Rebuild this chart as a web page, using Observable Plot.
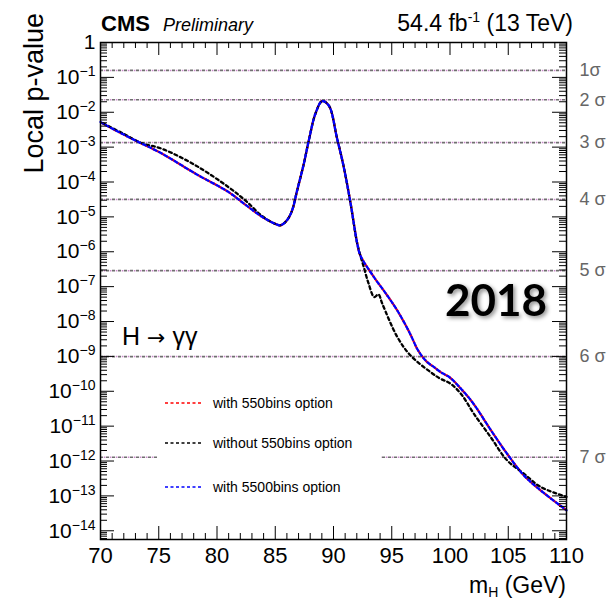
<!DOCTYPE html>
<html>
<head>
<meta charset="utf-8">
<script src="https://cdn.jsdelivr.net/npm/d3@7"></script>
<script src="https://cdn.jsdelivr.net/npm/@observablehq/plot@0.6"></script>
<style>
  html, body { margin: 0; padding: 0; background: #fff; }
  #chart { position: relative; width: 610px; height: 601px; }
</style>
</head>
<body>
<div id="chart"></div>
<script>
// ---- data ----
// mass points (GeV) and log10(local p-value)
const massBlue = [70.0, 71.3, 73.0, 75.3, 78.15, 81.0, 82.16, 83.88, 85.0, 85.45, 86.0, 86.45, 86.88, 87.45, 87.88, 88.45, 89.03, 89.6, 90.3, 90.88, 91.46, 92.03, 92.3, 93.46, 94.5, 95.47, 96.5, 97.3, 98.0, 98.6, 99.2, 100.04, 101.0, 102.0, 103.48, 104.9, 106.34, 107.77, 110.0];
const logBlue  = [-2.28, -2.52, -2.81, -3.19, -3.76, -4.29, -4.58, -5.00, -5.20, -5.24, -5.10, -4.81, -4.24, -3.48, -2.81, -2.04, -1.68, -1.81, -2.74, -3.57, -4.6, -5.75, -6.1, -6.72, -7.2, -7.68, -8.3, -8.85, -9.15, -9.3, -9.45, -9.62, -9.95, -10.35, -11.1, -11.79, -12.41, -12.84, -13.41];
const massRed  = massBlue.slice();
const logRed   = logBlue.slice();
const massBlack = [70.0, 72.0, 73.5, 75.3, 78.15, 81.0, 82.5, 83.88, 85.0, 85.45, 86.0, 86.45, 86.88, 87.45, 87.88, 88.45, 89.03, 89.6, 90.3, 90.88, 91.46, 92.03, 92.3, 92.6, 93.0, 93.5, 93.85, 94.2, 95.47, 96.6, 98.33, 99.18, 100.04, 101.0, 102.04, 103.48, 104.9, 106.34, 107.77, 110.0];
const logBlack  = [-2.28, -2.62, -2.88, -3.05, -3.52, -4.15, -4.55, -4.98, -5.20, -5.24, -5.10, -4.81, -4.24, -3.48, -2.81, -2.04, -1.68, -1.81, -2.74, -3.57, -4.6, -5.75, -6.1, -6.44, -6.9, -7.3, -7.22, -7.5, -8.44, -8.97, -9.45, -9.64, -9.78, -10.1, -10.64, -11.31, -11.98, -12.36, -12.74, -13.03];

const sigmaLabels = ["1σ", "2 σ", "3 σ", "4 σ", "5 σ", "6 σ", "7 σ"];
const sigmaP = [0.1587, 0.02275, 1.35e-3, 3.17e-5, 2.87e-7, 9.87e-10, 1.28e-12];

const xTicks = [70, 75, 80, 85, 90, 95, 100, 105, 110];
const yExps = [0, -1, -2, -3, -4, -5, -6, -7, -8, -9, -10, -11, -12, -13, -14];

const legendNames = ["with 550bins option", "without 550bins option", "with 5500bins option"];
const legendColors = ["#ff0000", "#000000", "#0000ff"];

// ---- build tables ----
const toRows = (ms, ls) => ms.map((m, i) => ({m, p: Math.pow(10, ls[i])}));
const blue = toRows(massBlue, logBlue);
const red = toRows(massRed, logRed);
const black = toRows(massBlack, logBlack);
const sigmas = sigmaP.map((p, i) => ({p, label: sigmaLabels[i]}));
const yMajor = yExps.map(e => Math.pow(10, e));
const yMinor = [];
for (let e = -15; e < 0; e++) for (let k = 2; k <= 9; k++) {
  const v = k * Math.pow(10, e);
  if (v >= Math.pow(10, -14.25)) yMinor.push(v);
}
const xMinor = d3.range(70, 111).filter(v => v % 5 !== 0);

const W = 610, H = 601, mL = 100, mR = 44, mT = 42, mB = 62;
const iW = W - mL - mR, iH = H - mT - mB;

const plot = Plot.plot({
  width: W, height: H,
  marginLeft: mL, marginRight: mR, marginTop: mT, marginBottom: mB,
  style: {fontFamily: "'Liberation Sans', Arial, sans-serif", fontSize: "21px", color: "#000", background: "#fff"},
  x: {domain: [70, 110], label: null},
  y: {type: "log", domain: [Math.pow(10, -14.25), 1], label: null},
  marks: [
    // sigma lines
    Plot.ruleY(sigmas, {y: "p", stroke: "#c98ac9", strokeWidth: 1.5, strokeDasharray: "1.6,4.4", strokeDashoffset: 2.2}),
    Plot.ruleY(sigmas, {y: "p", stroke: "#6f6f6f", strokeWidth: 1.6, strokeDasharray: "3,3"}),
    Plot.text(sigmas, {x: () => 110, y: "p", text: "label", dx: 13, textAnchor: "start", fill: "#666", fontSize: 18}),
    // curves
    Plot.line(red, {x: "m", y: "p", stroke: "#ff0000", strokeWidth: 2.3, strokeDasharray: "3,3", strokeDashoffset: 3, curve: "catmull-rom", className: "curve-red"}),
    Plot.line(black, {x: "m", y: "p", stroke: "#000", strokeWidth: 2.3, strokeDasharray: "3,3", strokeDashoffset: 3, curve: "catmull-rom"}),
    Plot.line(blue, {x: "m", y: "p", stroke: "#0000ff", strokeWidth: 2.3, strokeDasharray: "3,3", curve: "catmull-rom"}),
    // inward ticks
    Plot.tickX(xTicks, {x: d => d, insetTop: iH - 13, stroke: "#000"}),
    Plot.tickX(xTicks, {x: d => d, insetBottom: iH - 13, stroke: "#000"}),
    Plot.tickX(xMinor, {x: d => d, insetTop: iH - 6, stroke: "#000"}),
    Plot.tickX(xMinor, {x: d => d, insetBottom: iH - 6, stroke: "#000"}),
    Plot.tickY(yMajor, {y: d => d, insetRight: iW - 14, stroke: "#000"}),
    Plot.tickY(yMajor, {y: d => d, insetLeft: iW - 14, stroke: "#000"}),
    Plot.tickY(yMinor, {y: d => d, insetRight: iW - 7, stroke: "#000"}),
    Plot.tickY(yMinor, {y: d => d, insetLeft: iW - 7, stroke: "#000"}),
    Plot.frame({stroke: "#000", strokeWidth: 1.5}),
    Plot.axisX({ticks: xTicks, tickSize: 0, tickPadding: 8, tickFormat: d => String(d), fontSize: 22}),
    Plot.axisY({ticks: yMajor, tickSize: 0, tickPadding: 5, tickFormat: d => { const e = Math.round(Math.log10(d)); return e === 0 ? "1" : "10^" + e; }, fontSize: 21})
  ]
});

document.getElementById("chart").appendChild(plot);
const svg = d3.select(plot);

// superscripts in y tick labels
svg.selectAll("text").each(function () {
  const t = d3.select(this);
  const s = t.text();
  if (/^10\^-?\d+$/.test(s)) {
    const e = s.slice(3).replace("-", "\u2212");
    t.text("");
    t.append("tspan").text("10");
    t.append("tspan").attr("dy", "-8").attr("font-size", "14px").text(e);
  }
});

// white legend box hiding sigma line, inserted under the curves
const firstCurve = plot.querySelector(".curve-red") || plot.querySelector("g[aria-label='line']");
const box = document.createElementNS("http://www.w3.org/2000/svg", "rect");
box.setAttribute("x", 157); box.setAttribute("y", 380);
box.setAttribute("width", 224); box.setAttribute("height", 122);
box.setAttribute("fill", "#fff");
if (firstCurve) firstCurve.parentNode.insertBefore(box, firstCurve);

const g = svg.append("g").attr("font-family", "'Liberation Sans', Arial, sans-serif").attr("text-anchor", "start").attr("fill", "#000");

// header
g.append("text").attr("x", 101).attr("y", 31).attr("font-size", 22).attr("font-weight", "bold").text("CMS");
g.append("text").attr("x", 163).attr("y", 31).attr("font-size", 18).attr("font-style", "italic").text("Preliminary");
const lumi = g.append("text").attr("x", 573).attr("y", 31).attr("font-size", 23).attr("text-anchor", "end");
lumi.append("tspan").text("54.4 fb");
lumi.append("tspan").attr("dy", -9).attr("font-size", 14).text("-1");
lumi.append("tspan").attr("dy", 9).text(" (13 TeV)");

// axis titles
g.append("text").attr("transform", "translate(43,13) rotate(-90)").attr("text-anchor", "end")
  .attr("font-size", 27).text("Local p-value");
const xl = g.append("text").attr("x", 566).attr("y", 593).attr("text-anchor", "end").attr("font-size", 23);
xl.append("tspan").text("m");
xl.append("tspan").attr("dy", 4).attr("font-size", 14).text("H");
xl.append("tspan").attr("dy", -4).text(" (GeV)");

// annotations
const hgg = g.append("text").attr("x", 122).attr("y", 345).attr("font-size", 25);
hgg.append("tspan").text("H ");
hgg.append("tspan").attr("font-family", "'DejaVu Sans', sans-serif").attr("font-size", 22).text("\u2192");
hgg.append("tspan").text(" \u03b3\u03b3");
g.append("text").attr("x", 496).attr("y", 316).attr("text-anchor", "middle")
  .attr("font-family", "Lato, 'Open Sans', sans-serif").attr("font-weight", "bold").attr("font-size", 44)
  .style("filter", "drop-shadow(2px 2px 2px rgba(0,0,0,0.45))").text("2018");

// legend
legendNames.forEach((name, i) => {
  const y = [403, 443, 487][i];
  g.append("line").attr("x1", 165).attr("x2", 202).attr("y1", y).attr("y2", y)
    .attr("stroke", legendColors[i]).attr("stroke-width", 1.6).attr("stroke-dasharray", "3,2.5");
  g.append("text").attr("x", 213).attr("y", y).attr("dy", "0.35em").attr("font-size", 14).text(name);
});
</script>
</body>
</html>
